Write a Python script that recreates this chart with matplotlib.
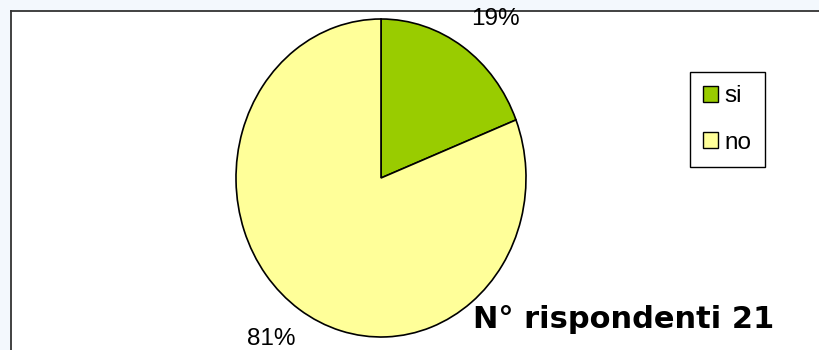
import matplotlib
matplotlib.use("Agg")
import matplotlib.pyplot as plt
from matplotlib.patches import Patch, Rectangle
from matplotlib.lines import Line2D

categories = ["si", "no"]
counts = [4, 17]
colors = ["#99CC00", "#FFFF99"]
pct_labels = ["19%", "81%"]
note = "N° rispondenti 21"

W, H = 819, 350
fig = plt.figure(figsize=(W / 100, H / 100), dpi=100, facecolor="#F3F8FD")

# white chart area with frame on top/left
fig.patches.append(Rectangle((11 / W, 0), 1, 1 - 11 / H, transform=fig.transFigure,
                             facecolor="white", edgecolor="none", zorder=-5))
fig.lines.append(Line2D([11 / W, 1], [1 - 11 / H, 1 - 11 / H], transform=fig.transFigure,
                        color="#333333", lw=1.3, zorder=-4))
fig.lines.append(Line2D([11 / W, 11 / W], [0, 1 - 11 / H], transform=fig.transFigure,
                        color="#333333", lw=1.3, zorder=-4))

# pie axes (slightly taller than wide, giving an elliptical pie)
cx, cy, rx, ry = 381, 178, 145, 159
ax = fig.add_axes([(cx - rx) / W, (H - cy - ry) / H, 2 * rx / W, 2 * ry / H])
ax.patch.set_alpha(0)
wedges, _ = ax.pie(counts, colors=colors, startangle=90, counterclock=False,
                   wedgeprops=dict(edgecolor="black", linewidth=1.2))
ax.set_aspect("auto")
ax.set_xlim(-1, 1)
ax.set_ylim(-1, 1)
ax.axis("off")

ax.text(0.79, 1.0, pct_labels[0], ha="center", va="center", fontsize=17.5,
        family="Liberation Sans", clip_on=False)
ax.text(-0.755, -1.01, pct_labels[1], ha="center", va="center", fontsize=17.5,
        family="Liberation Sans", clip_on=False)

handles = [Patch(facecolor=c, edgecolor="black", linewidth=1.0) for c in colors]
leg = fig.legend(handles, categories, loc="upper left",
                 bbox_to_anchor=(690 / W, 1 - 72 / H),
                 prop={"family": "Liberation Sans", "size": 17.5},
                 handlelength=0.62, handleheight=0.62, handletextpad=0.25,
                 labelspacing=1.0, borderpad=0.55, borderaxespad=0,
                 fancybox=False, framealpha=1, edgecolor="black")
leg.get_frame().set_linewidth(1.0)

fig.text(473 / W, 1 - 328 / H, note, fontsize=22, fontweight="bold",
         family="DejaVu Sans", ha="left", va="baseline")

fig.savefig("out.png", dpi=100, facecolor=fig.get_facecolor())
